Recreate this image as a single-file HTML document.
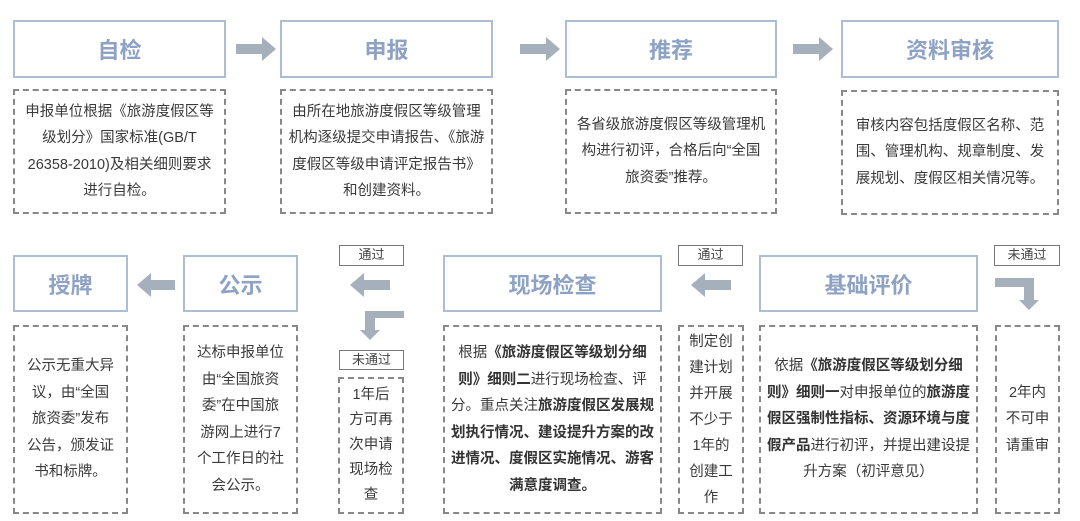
<!DOCTYPE html>
<html><head><meta charset="utf-8"><style>
body{margin:0;width:1080px;height:521px;background:#fff;position:relative;overflow:hidden;font-family:"Liberation Sans","Noto Sans CJK SC",sans-serif;color:#3a3a3a}
.t{position:absolute;border:2px solid #aebdd6;box-sizing:border-box;display:flex;align-items:center;justify-content:center;font-size:22px;font-weight:bold;color:#8ea2c4}
.d{position:absolute;border:2px dashed #888;box-sizing:border-box;display:flex;align-items:center;justify-content:center;text-align:center;font-size:14.5px;line-height:26.5px;padding:0 10px}
.d>div{width:100%}
.l{position:absolute;border:1.5px solid #777;box-sizing:border-box;font-size:13px;text-align:center;line-height:18px;color:#444}
b{font-weight:bold;color:#333}
svg{position:absolute;left:0;top:0}
</style></head><body>
<div class="t" style="left:13px;top:20px;width:213px;height:58px">自检</div>
<div class="t" style="left:280px;top:20px;width:213px;height:58px">申报</div>
<div class="t" style="left:565px;top:20px;width:212px;height:58px">推荐</div>
<div class="t" style="left:841px;top:20px;width:218px;height:58px">资料审核</div>

<div class="d" style="left:13px;top:89px;width:213px;height:125px;padding:0 8px"><div>申报单位根据《旅游度假区等级划分》国家标准(GB/T 26358-2010)及相关细则要求进行自检。</div></div>
<div class="d" style="left:280px;top:89px;width:213px;height:125px;padding:0 6px"><div>由所在地旅游度假区等级管理机构逐级提交申请报告、《旅游度假区等级申请评定报告书》和创建资料。</div></div>
<div class="d" style="left:565px;top:89px;width:212px;height:125px;padding:0 8px"><div>各省级旅游度假区等级管理机构进行初评，合格后向“全国旅资委”推荐。</div></div>
<div class="d" style="left:841px;top:90px;width:218px;height:125px;padding:0 8px"><div>审核内容包括度假区名称、范围、管理机构、规章制度、发展规划、度假区相关情况等。</div></div>

<div class="t" style="left:13px;top:255px;width:115px;height:57px">授牌</div>
<div class="t" style="left:183px;top:255px;width:115px;height:57px">公示</div>
<div class="t" style="left:443px;top:255px;width:219px;height:57px">现场检查</div>
<div class="t" style="left:759px;top:255px;width:219px;height:57px">基础评价</div>

<div class="d" style="left:13px;top:325px;width:115px;height:189px;padding:0 10px"><div>公示无重大异议，由“全国旅资委”发布公告，颁发证书和标牌。</div></div>
<div class="d" style="left:183px;top:325px;width:115px;height:189px;padding:0 10px"><div>达标申报单位由“全国旅资委”在中国旅游网上进行7个工作日的社会公示。</div></div>
<div class="d" style="left:338px;top:377px;width:66px;height:137px;padding:0 9px;line-height:25px"><div>1年后方可再次申请现场检查</div></div>
<div class="d" style="left:443px;top:325px;width:219px;height:189px;padding:0 6px"><div>根据<b>《旅游度假区等级划分细则》细则二</b>进行现场检查、评分。重点关注<b>旅游度假区发展规划执行情况、建设提升方案的改进情况、度假区实施情况、游客满意度调查。</b></div></div>
<div class="d" style="left:678px;top:325px;width:66px;height:189px;padding:0 9px;line-height:26px"><div>制定创建计划并开展不少于1年的创建工作</div></div>
<div class="d" style="left:759px;top:325px;width:219px;height:189px;padding:0 3px"><div>依据<b>《旅游度假区等级划分细则》细则一</b>对申报单位的<b>旅游度假区强制性指标、资源环境与度假产品</b>进行初评，并提出建设提升方案（初评意见）</div></div>
<div class="d" style="left:995px;top:325px;width:65px;height:189px;padding:0 6px"><div>2年内不可申请重审</div></div>

<div class="l" style="left:339px;top:245px;width:65px;height:21px">通过</div>
<div class="l" style="left:678px;top:245px;width:65px;height:21px">通过</div>
<div class="l" style="left:994px;top:245px;width:66px;height:21px">未通过</div>
<div class="l" style="left:339px;top:350px;width:65px;height:20px">未通过</div>

<svg width="1080" height="521" viewBox="0 0 1080 521">
<g fill="#a6b0bc">
<polygon points="236,44 262,44 262,37 276,49 262,61 262,54 236,54"/>
<polygon points="520,44 546,44 546,37 560,49 546,61 546,54 520,54"/>
<polygon points="793,44 819,44 819,37 833,49 819,61 819,54 793,54"/>
<polygon points="175,280 151,280 151,273 137,285 151,297 151,290 175,290"/>
<polygon points="390,280 364,280 364,273 350,285 364,297 364,290 390,290"/>
<polygon points="731,280 705,280 705,273 691,285 705,297 705,290 731,290"/>
<polygon points="404,311 404,318 375,318 375,330 380,330 370,340 360,330 365,330 365,311"/>
<polygon points="995,278 1034,278 1034,300 1039,300 1029,310 1019,300 1024,300 1024,287 995,287"/>
</g>
</svg>
</body></html>
